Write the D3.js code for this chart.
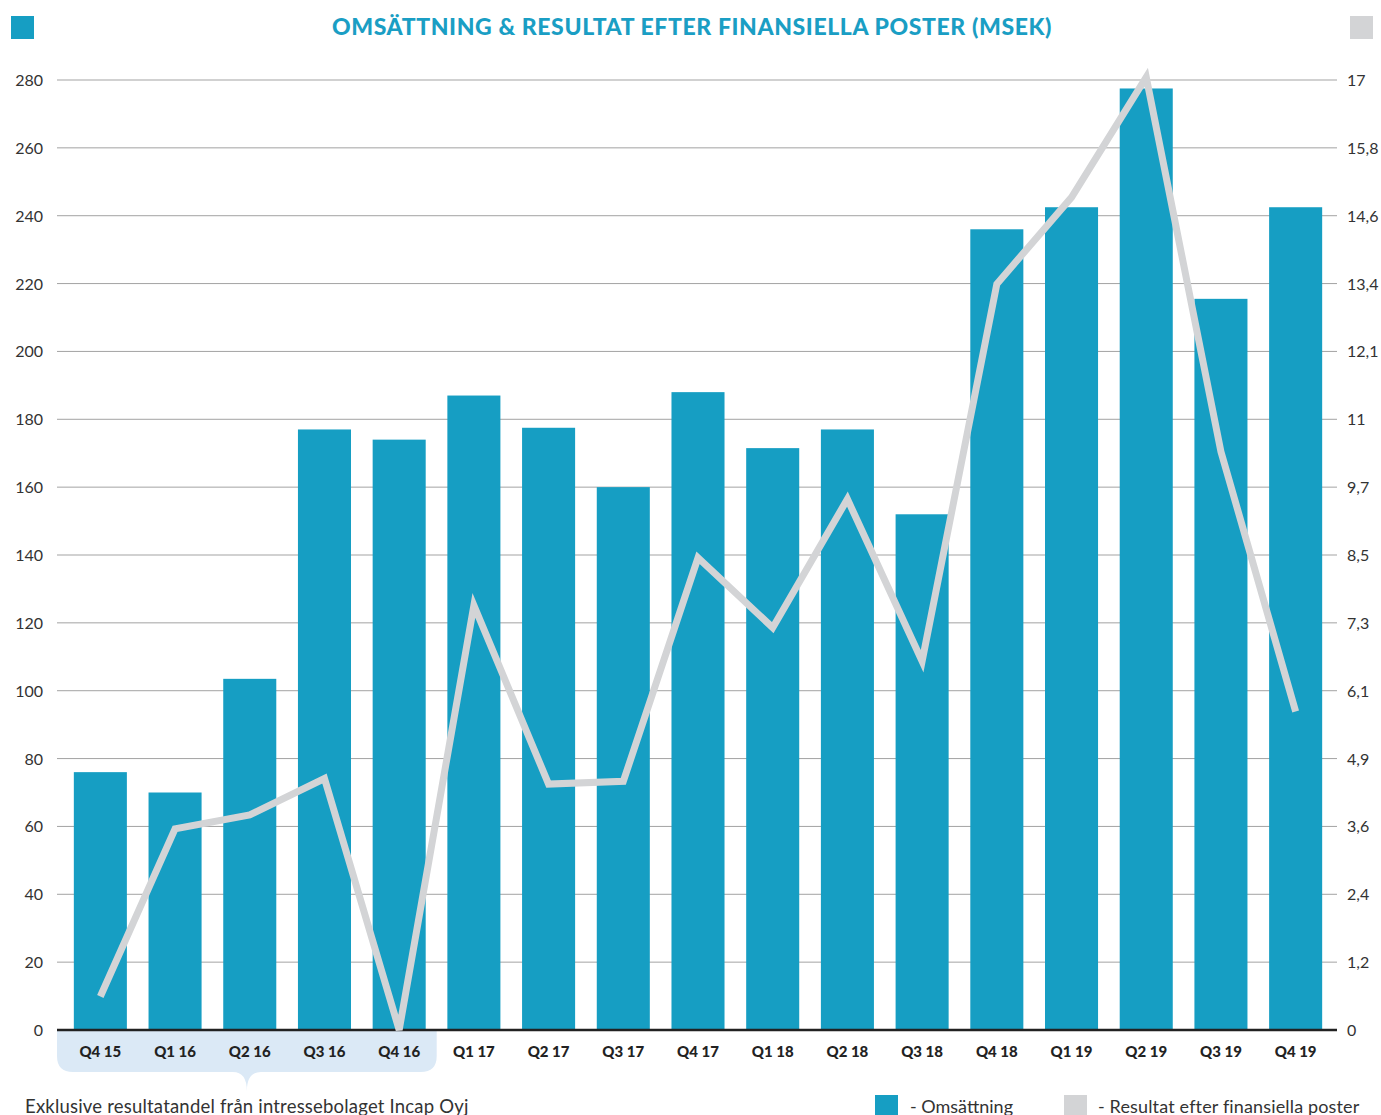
<!DOCTYPE html>
<html>
<head>
<meta charset="utf-8">
<script src="https://cdn.jsdelivr.net/npm/d3@7"></script>
<style>
  body { margin: 0; background: #fff; }
  svg { display: block; font-family: "Lato", "DejaVu Sans", sans-serif; }
</style>
</head>
<body>
<svg id="chart" width="1381" height="1115"></svg>
<script>
var quarters = ["Q4 15", "Q1 16", "Q2 16", "Q3 16", "Q4 16", "Q1 17", "Q2 17", "Q3 17", "Q4 17",
  "Q1 18", "Q2 18", "Q3 18", "Q4 18", "Q1 19", "Q2 19", "Q3 19", "Q4 19"];
// Omsättning (MSEK), left axis
var revenue = [76, 70, 103.5, 177, 174, 187, 177.5, 160, 188, 171.5, 177, 152, 236, 242.5, 277.5, 215.5, 242.5];
// Resultat efter finansiella poster (MSEK), right axis
var profit = [0.6, 3.6, 3.85, 4.5, 0, 7.6, 4.4, 4.45, 8.45, 7.2, 9.5, 6.6, 13.35, 14.9, 17.05, 10.35, 5.7];
var leftTicks = [0, 20, 40, 60, 80, 100, 120, 140, 160, 180, 200, 220, 240, 260, 280];
var rightLabels = ["0", "1,2", "2,4", "3,6", "4,9", "6,1", "7,3", "8,5", "9,7", "11", "12,1", "13,4", "14,6", "15,8", "17"];
var highlighted = ["Q4 15", "Q1 16", "Q2 16", "Q3 16", "Q4 16"];

var blue = "#169ec3", grey = "#d3d4d6";
var svg = d3.select("#chart");
var plotLeft = 57, plotRight = 1337, plotTop = 80, plotBottom = 1030;

var x = d3.scaleBand().domain(quarters).range([plotLeft + 6, plotRight - 4]).paddingInner(0.29).paddingOuter(0.145);
var y = d3.scaleLinear().domain([0, 280]).range([plotBottom, plotTop]);
var y2 = d3.scaleLinear().domain([0, 17]).range([plotBottom, plotTop]);

// header squares + title
svg.append("rect").attr("x", 11).attr("y", 16).attr("width", 23).attr("height", 23).attr("fill", blue);
svg.append("rect").attr("x", 1350).attr("y", 16).attr("width", 23).attr("height", 23).attr("fill", grey);
svg.append("text").attr("x", 692).attr("y", 35).attr("text-anchor", "middle")
  .attr("font-size", 23).attr("font-weight", 900).attr("letter-spacing", 0.6).attr("fill", "#1a9ec4")
  .text("OMSÄTTNING & RESULTAT EFTER FINANSIELLA POSTER (MSEK)");

// callout box behind first five labels
var x0 = plotLeft, x1 = x(highlighted[highlighted.length - 1]) + x.bandwidth() + 11;
var bTop = plotBottom + 1, bBot = 1072, r = 16, px = (x0 + x1) / 2;
svg.append("path").attr("fill", "#dbe9f6")
  .attr("d", "M" + x0 + "," + bTop + "H" + x1 + "V" + (bBot - r) +
    "Q" + x1 + "," + bBot + " " + (x1 - r) + "," + bBot +
    "H" + (px + 14) + "Q" + px + "," + bBot + " " + px + "," + (bBot + 19) +
    "Q" + px + "," + bBot + " " + (px - 14) + "," + bBot +
    "H" + (x0 + r) + "Q" + x0 + "," + bBot + " " + x0 + "," + (bBot - r) + "Z");

// gridlines
svg.append("g").selectAll("line").data(leftTicks.slice(1)).enter().append("line")
  .attr("x1", plotLeft).attr("x2", plotRight)
  .attr("y1", d => y(d)).attr("y2", d => y(d))
  .attr("stroke", "#a3a3a3").attr("stroke-width", 1);

// left axis labels
svg.append("g").selectAll("text").data(leftTicks).enter().append("text")
  .attr("x", 43).attr("y", d => y(d) + 6).attr("text-anchor", "end")
  .attr("font-size", 16).attr("fill", "#333").text(d => d);

// right axis labels
svg.append("g").selectAll("text").data(rightLabels).enter().append("text")
  .attr("x", 1347).attr("y", (d, i) => y(leftTicks[i]) + 6)
  .attr("font-size", 16).attr("fill", "#333").text(d => d);

// bars
svg.append("g").selectAll("rect").data(revenue).enter().append("rect")
  .attr("x", (d, i) => x(quarters[i])).attr("width", x.bandwidth())
  .attr("y", d => y(d)).attr("height", d => plotBottom + 1 - y(d))
  .attr("fill", blue);

// baseline
svg.append("line").attr("x1", plotLeft).attr("x2", plotRight).attr("y1", plotBottom).attr("y2", plotBottom)
  .attr("stroke", "#222").attr("stroke-width", 2.5);

// result line
var line = d3.line()
  .x((d, i) => x(quarters[i]) + x.bandwidth() / 2)
  .y(d => y2(d));
svg.append("path").datum(profit).attr("d", line)
  .attr("fill", "none").attr("stroke", grey).attr("stroke-width", 7).attr("stroke-linejoin", "miter");

// x labels
svg.append("g").selectAll("text").data(quarters).enter().append("text")
  .attr("x", d => x(d) + x.bandwidth() / 2).attr("y", 1057).attr("text-anchor", "middle")
  .attr("font-size", 15).attr("font-weight", 900).attr("fill", "#222").text(d => d);

// footnote
svg.append("text").attr("x", 25).attr("y", 1113).attr("font-size", 18.5).attr("letter-spacing", 0.2).attr("fill", "#333")
  .text("Exklusive resultatandel från intressebolaget Incap Oyj");

// legend
svg.append("rect").attr("x", 875).attr("y", 1095).attr("width", 23).attr("height", 23).attr("fill", blue);
svg.append("text").attr("x", 910).attr("y", 1113).attr("font-size", 18).attr("fill", "#333").text("- Omsättning");
svg.append("rect").attr("x", 1064).attr("y", 1095).attr("width", 23).attr("height", 23).attr("fill", grey);
svg.append("text").attr("x", 1098).attr("y", 1113).attr("font-size", 18).attr("letter-spacing", 0.15).attr("fill", "#333").text("- Resultat efter finansiella poster");
</script>
</body>
</html>
